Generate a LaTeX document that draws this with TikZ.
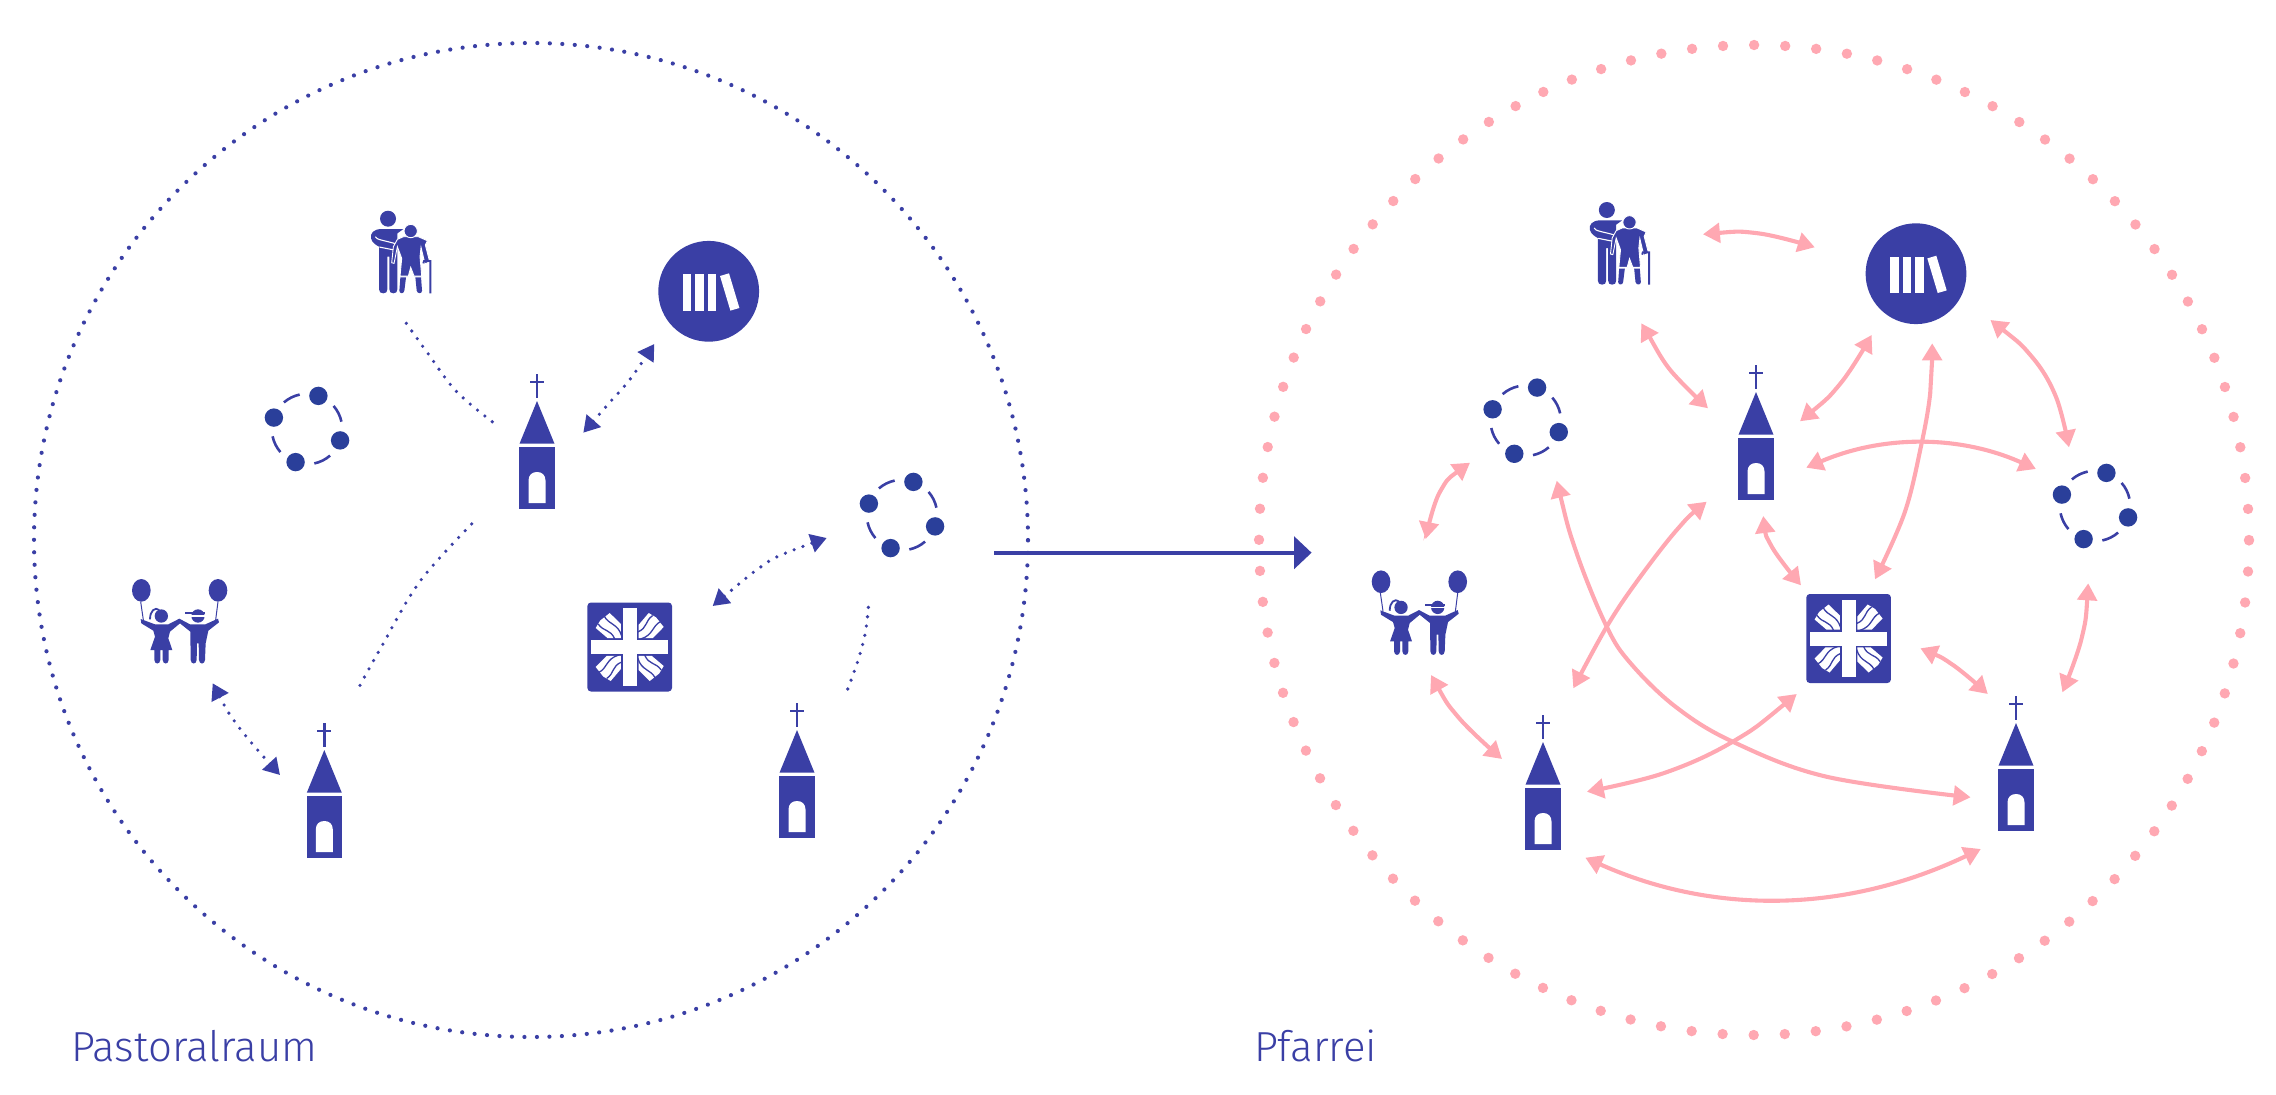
\documentclass[tikz,border=0pt]{standalone}
\usepackage{fontspec}
\setmainfont{Fira Sans Light}
\usetikzlibrary{arrows.meta}
\definecolor{iconblue}{HTML}{3A3FA5}
\definecolor{groupblue}{HTML}{2A3F9A}
\definecolor{rosepink}{HTML}{FFA8B2}
\tikzset{
 dotcurve/.style={draw=iconblue,line width=3.6pt,line cap=round,dash pattern=on 0pt off 9.4pt},
 dotarrow/.style={dotcurve,{Triangle[length=16pt,width=18.5pt]}-{Triangle[length=16pt,width=18.5pt]}},
 pinkarrow/.style={draw=rosepink,line width=4.1pt,{Triangle[length=17pt,width=19.5pt]}-{Triangle[length=17pt,width=19.5pt]}},
 scopecircle/.style={draw=iconblue,line width=4.2pt,line cap=round,dash pattern=on 0pt off 12.491pt},
 parishcircle/.style={draw=rosepink,line width=10.4pt,line cap=round,dash pattern=on 0pt off 31.102pt},
 mainarrow/.style={draw=iconblue,line width=4.3pt,-{Triangle[length=17.6pt,width=32pt]}},
 lab/.style={text=iconblue,font=\fontsize{42pt}{44pt}\selectfont,anchor=base west,inner sep=0pt},
 churchicon/.pic={
  \fill[iconblue] (-1.3,-73) rectangle (1.3,-49);
  \fill[iconblue] (-7,-66.5) rectangle (7,-64);
  \fill[iconblue] (0,-46) -- (17.5,-3.3) -- (-17.5,-3.3) -- cycle;
  \fill[iconblue] (-17.7,0) rectangle (17.7,62);
  \fill[white] (-8.5,56) -- (-8.5,33.5) .. controls (-8.5,28) and (-5,25) .. (0,25) .. controls (5,25) and (8.5,28) .. (8.5,33.5) -- (8.5,56) -- cycle;
 },
 booksicon/.pic={
  \fill[iconblue] (0,0) circle (50.4pt);
  \fill[white] (-25.7,-17) rectangle (-17.3,19.3);
  \fill[white] (-13.3,-17) rectangle (-5,19.3);
  \fill[white] (-0.7,-17) rectangle (7.7,19.3);
  \fill[white] (11.3,-15.3) -- (20.3,-18) -- (30.7,16.7) -- (21.7,19.3) -- cycle;
 },
 groupicon/.pic={
  \begin{scope}[y=1pt]
  \foreach \a in {161,71,-19,-109}{\fill[groupblue] (\a:35pt) circle (9.2pt);}
  \foreach \a in {131,41,-49,-139}{
   \draw[iconblue,line width=2.6pt] (\a:35.2pt) arc[start angle=\a,delta angle=-29,radius=35.2pt];}
  \end{scope}
 },
 caritasicon/.pic={
  \fill[iconblue,rounded corners=3.5pt] (-42.3,-44.5) rectangle (42.3,44.5);
  \foreach \r in {0,90,180,270}{
   \begin{scope}[rotate=\r]
    \fill[white] (-8.8,-8.8) -- (-8.8,-23) -- (-20,-34) -- (-29.5,-26.5) -- (-34,-19) -- (-22,-8.8) -- cycle;
    \draw[iconblue,line width=1.3pt] (-25.5,-31) .. controls (-21,-22) and (-12,-24) .. (-8,-11);
    \draw[iconblue,line width=1.3pt] (-31.5,-23) .. controls (-26,-15) and (-19,-18) .. (-15,-8);
   \end{scope}}
  \fill[white] (-7,-38.7) rectangle (7,38.7);
  \fill[white] (-38.5,-7) rectangle (38.5,7);
 },
 seniorsicon/.pic={
  \begin{scope}[x=.3333pt,y=-.3333pt,shift={(-185,-185)}]
   \fill[iconblue] (144,86) circle (24pt*.3333);
   \fill[iconblue] (190,117) -- (125,117) .. controls (100,117) and (90,130) .. (93,145) .. controls (96,158) and (108,165) .. (117,170) -- (117,298) .. controls (117,306) and (122,310) .. (130,310) .. controls (138,310) and (142,306) .. (142,298) -- (142,200) -- (148,200) -- (148,298) .. controls (148,306) and (152,310) .. (160,310) .. controls (168,310) and (172,306) .. (172,298) -- (172,130) -- cycle;
   \draw[white,line width=1.1pt] (106,140) .. controls (110,150) and (130,150) .. (170,162);
   \draw[white,line width=1.1pt] (118,171) -- (168,181);
   \fill[iconblue,draw=white,line width=.9pt] (190,140) -- (235,140) -- (262,152) -- (256,165) -- (269,215) -- (255,222) -- (243,172) -- (240,200) -- (245,258) -- (222,258) -- (212,232) -- (205,258) -- (180,258) -- (185,205) -- (172,170) -- (162,220) -- (155,218) -- (160,170) -- (172,148) -- cycle;
   \fill[iconblue] (181,262) -- (198,262) -- (193,302) .. controls (192,312) and (178,312) .. (178,302) -- cycle;
   \fill[iconblue] (226,262) -- (243,262) -- (246,302) .. controls (246,312) and (232,312) .. (230,302) -- cycle;
   \fill[iconblue,draw=white,line width=.9pt] (212,123) circle (20pt*.3333);
   \draw[iconblue,line width=1.9pt] (250,220) -- (252,213) -- (271,213) -- (271,310);
  \end{scope}
 },
 kidsicon/.pic={
  \begin{scope}[x=.3333pt,y=-.3333pt,shift={(-240,-240)}]
   \fill[iconblue] (124,151) ellipse [x radius=28,y radius=-34];
   \fill[iconblue] (354,151) ellipse [x radius=28,y radius=-34];
   \draw[iconblue,line width=1pt] (122,185) -- (130,240);
   \draw[iconblue,line width=1pt] (354,185) -- (347,240);
   \fill[iconblue] (184,228) circle (20pt*.3333);
   \fill[iconblue] (294,228) circle (20pt*.3333);
   \draw[white,line width=1.6pt] (270,228) -- (318,228);
   \fill[iconblue] (255,217) -- (315,217) -- (315,223) -- (255,223) -- cycle;
   \draw[iconblue,line width=1.8pt] (150,238) .. controls (150,212) and (165,200) .. (178,210);
   \fill[iconblue] (122,237) -- (165,253) -- (205,253) -- (238,236) -- (270,253) -- (316,253) -- (354,236) -- (357,247) -- (325,272) -- (317,310) -- (315,360) .. controls (314,374) and (298,374) .. (297,360) -- (296,310) -- (291,310) -- (290,360) .. controls (289,374) and (273,374) .. (272,360) -- (271,275) -- (240,250) -- (210,275) -- (205,295) -- (217,330) -- (206,330) -- (206,360) .. controls (205,374) and (189,374) .. (188,360) -- (188,330) -- (181,330) -- (181,360) .. controls (180,374) and (164,374) .. (163,360) -- (163,330) -- (151,330) -- (165,290) -- (160,272) -- (124,250) -- cycle;
  \end{scope}
 },
}
\begin{document}
\begin{tikzpicture}[x=1pt,y=-1pt]
\useasboundingbox (0,0) rectangle (2276,1095);
% dotted outlines
\coordinate (leftcentre) at (531,540);
\coordinate (rightcentre) at (1754,540);
\draw[scopecircle] (leftcentre) circle (497pt);
\draw[parishcircle] (rightcentre) circle (495pt);
% icons, left
\coordinate (chA) at (537,447); \pic at (chA) {churchicon};
\coordinate (chB) at (324.3,796); \pic at (chB) {churchicon};
\coordinate (chC) at (797,776); \pic at (chC) {churchicon};
\coordinate (bookL) at (708.7,291.3); \pic at (bookL) {booksicon};
\coordinate (grpLa) at (307,429); \pic at (grpLa) {groupicon};
\coordinate (grpLb) at (902,515); \pic at (grpLb) {groupicon};
\coordinate (carL) at (629.7,647); \pic at (carL) {caritasicon};
\coordinate (senL) at (401.7,251.7); \pic at (senL) {seniorsicon};
\coordinate (kidL) at (180,620); \pic at (kidL) {kidsicon};
% icons, right
\coordinate (chD) at (1756,438); \pic at (chD) {churchicon};
\coordinate (chE) at (1543,788); \pic at (chE) {churchicon};
\coordinate (chF) at (2016,769); \pic at (chF) {churchicon};
\coordinate (bookR) at (1916,273.7); \pic at (bookR) {booksicon};
\coordinate (grpRa) at (1525.7,420.7); \pic at (grpRa) {groupicon};
\coordinate (grpRb) at (2095,506); \pic at (grpRb) {groupicon};
\coordinate (carR) at (1848.6,638.5); \pic at (carR) {caritasicon};
\coordinate (senR) at (1620.5,243); \pic at (senR) {seniorsicon};
\coordinate (kidR) at (1419.7,611.4); \pic at (kidR) {kidsicon};
% dotted connector ends, left
\coordinate (senLout) at (406.3,323.3); \coordinate (chAin) at (494.3,423.3);
\coordinate (chAbk) at (583.3,432.7); \coordinate (bkLin) at (654.3,344);
\coordinate (kidLout) at (212.7,683.3); \coordinate (chBkid) at (280,775);
\coordinate (chBout) at (360,685.3); \coordinate (chAlow) at (477.3,518.3);
\coordinate (carLout) at (712.7,606); \coordinate (grpLbin) at (826.7,538);
\coordinate (chCout) at (847.7,689); \coordinate (grpLbl) at (868.7,603.7);
\draw[dotcurve] plot[smooth,tension=.6] coordinates {(senLout) (428.3,354) (456.7,391.7) (chAin)};
\draw[dotarrow] plot[smooth,tension=.6] coordinates {(chAbk) (611,401) (630.3,379) (bkLin)};
\draw[dotarrow] plot[smooth,tension=.6] coordinates {(kidLout) (239,727.3) (chBkid)};
\draw[dotcurve] plot[smooth,tension=.6] coordinates {(chBout) (382,645.7) (421,580) (chAlow)};
\draw[dotarrow] plot[smooth,tension=.6] coordinates {(carLout) (762,566) (786,553) (grpLbin)};
\draw[dotcurve] plot[smooth,tension=.6] coordinates {(chCout) (857.7,661.3) (865.3,633) (grpLbl)};
% main arrow
\coordinate (arrowstart) at (994,552.7); \coordinate (arrowend) at (1311.6,552.7);
\draw[mainarrow] (arrowstart) -- (arrowend);
% pink connector ends
\coordinate (a1) at (1702.9,234.3); \coordinate (a2) at (1814.8,247.3);
\coordinate (b1) at (1641.3,323.3); \coordinate (b2) at (1708,408.3);
\coordinate (c1) at (1800,421.3); \coordinate (c2) at (1871.6,335);
\coordinate (d1) at (1806.2,467.7); \coordinate (d2) at (2035.9,469);
\coordinate (e1) at (1932.2,343.3); \coordinate (e2) at (1875,579.3);
\coordinate (f1) at (1990.4,320); \coordinate (f2) at (2069,447.3);
\coordinate (g1) at (1763.2,516); \coordinate (g2) at (1801,585.3);
\coordinate (h1) at (1470,462.7); \coordinate (h2) at (1425.7,539);
\coordinate (i1) at (1556.7,480.7); \coordinate (i2) at (1970.6,797.3);
\coordinate (j1) at (1706.7,501.7); \coordinate (j2) at (1573.3,688.3);
\coordinate (k1) at (1431,675); \coordinate (k2) at (1502,759);
\coordinate (l1) at (1796.7,694); \coordinate (l2) at (1586.9,791.7);
\coordinate (m1) at (1585.3,857.7); \coordinate (m2) at (1980.8,849);
\coordinate (n1) at (1920.4,648.3); \coordinate (n2) at (1987.8,694);
\coordinate (o1) at (2088.2,583.3); \coordinate (o2) at (2062.4,692.3);
\draw[pinkarrow] plot[smooth,tension=.6] coordinates {(a1) (1758,233.3) (a2)};
\draw[pinkarrow] plot[smooth,tension=.6] coordinates {(b1) (1647.8,334) (1670.2,370) (b2)};
\draw[pinkarrow] plot[smooth,tension=.6] coordinates {(c1) (1840.6,383.3) (c2)};
\draw[pinkarrow] (d1) .. controls (1883.5,434.7) and (1960.2,435.1) .. (d2);
\draw[pinkarrow] plot[smooth,tension=.6] coordinates {(e1) (1930.2,393.3) (1920.9,446.7) (1904.4,513.3) (e2)};
\draw[pinkarrow] plot[smooth,tension=.6] coordinates {(f1) (2031.8,356.7) (2055.9,396.7) (f2)};
\draw[pinkarrow] plot[smooth,tension=.6] coordinates {(g1) (1771.8,546.7) (g2)};
\draw[pinkarrow] plot[smooth,tension=.6] coordinates {(h1) (1440,491.7) (h2)};
\draw[pinkarrow] plot[smooth,tension=.6] coordinates {(i1) (1576.7,553.3) (1606.7,626.7) (1630.6,663.3) (1675.5,706.7) (1732.7,741.7) (1826.5,776.7) (i2)};
\draw[pinkarrow] plot[smooth,tension=.6] coordinates {(j1) (1676.7,530) (1636.7,581.7) (1606.7,626.7) (j2)};
\draw[pinkarrow] plot[smooth,tension=.6] coordinates {(k1) (1459,718) (k2)};
\draw[pinkarrow] plot[smooth,tension=.6] coordinates {(l1) (1732.7,741.7) (1663.3,773.3) (l2)};
\draw[pinkarrow] (m1) .. controls (1715,915.7) and (1847,912.7) .. (m2);
\draw[pinkarrow] plot[smooth,tension=.6] coordinates {(n1) (1953,665) (n2)};
\draw[pinkarrow] plot[smooth,tension=.6] coordinates {(o1) (2081.6,638.3) (o2)};
% labels
\node[lab] (pastoral) at (71,1061.7) {Pastoralraum};
\node[lab] (pfarrei) at (1254,1061.7) {Pfarrei};
\end{tikzpicture}
\end{document}
